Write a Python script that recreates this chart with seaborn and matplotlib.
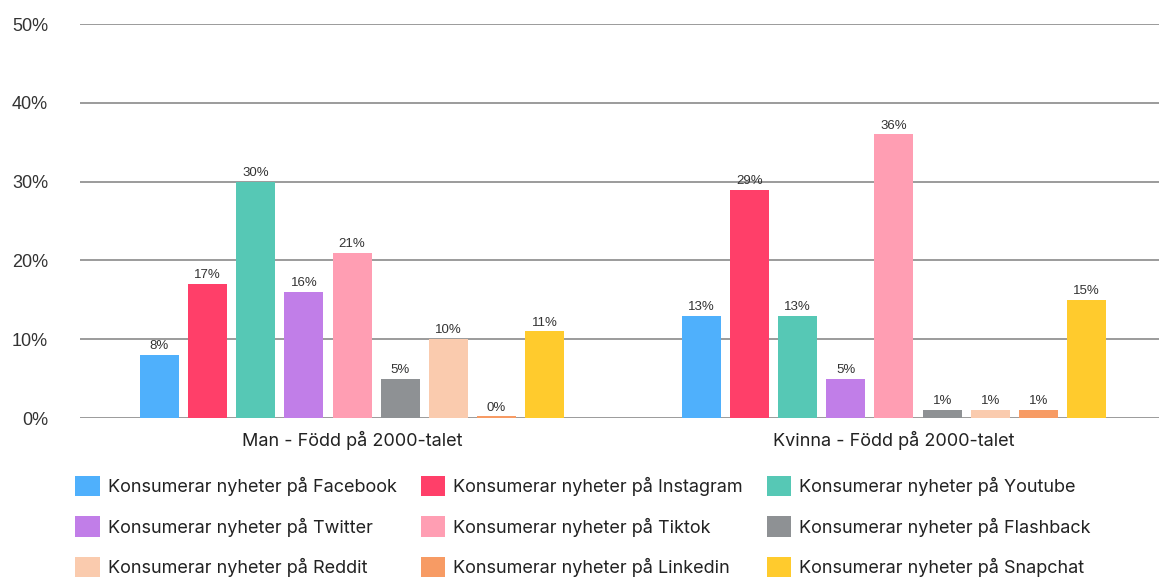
import pandas as pd
import matplotlib.pyplot as plt
import seaborn as sns
from matplotlib.ticker import PercentFormatter

groups = ['Man - Född på 2000-talet', 'Kvinna - Född på 2000-talet']
platforms = ['Facebook', 'Instagram', 'Youtube', 'Twitter', 'Tiktok',
             'Flashback', 'Reddit', 'Linkedin', 'Snapchat']
man = [8, 17, 30, 16, 21, 5, 10, 0.2, 11]
kvinna = [13, 29, 13, 5, 36, 1, 1, 1, 15]
colors = ['#4FB0FC', '#FF3F69', '#56C8B5', '#C17EE8', '#FF9EB3',
          '#8E9194', '#FACBAE', '#F79B64', '#FFCB2D']

series = [f'Konsumerar nyheter på {p}' for p in platforms]
df = pd.DataFrame({
    'grupp': [groups[0]] * len(man) + [groups[1]] * len(kvinna),
    'serie': series + series,
    'andel': man + kvinna,
})

sns.set_style("white")
plt.rcParams['font.family'] = ['Inter', 'DejaVu Sans']

fig = plt.figure(figsize=(11.59, 5.79), dpi=100)
ax = fig.add_axes([0.069, 0.278, 0.931, 0.6805])

sns.barplot(data=df, x='grupp', y='andel', hue='serie', palette=colors,
            saturation=1, width=0.8, gap=0.19, linewidth=0, ax=ax, legend=True)

ax.set_xlim(-0.502, 1.489)
ax.set_ylim(0, 50)
ax.set_yticks(range(0, 51, 10))
ax.yaxis.set_major_formatter(PercentFormatter(decimals=0))
for y in range(0, 51, 10):
    ax.axhline(y, color='#8a8a8a', lw=1.2, zorder=0)
for s in ax.spines.values():
    s.set_visible(False)
ax.tick_params(axis='both', length=0)
ax.tick_params(axis='y', pad=23, labelsize=13, labelcolor='#333333')
for t in ax.get_yticklabels():
    t.set_fontfamily('Liberation Sans')
ax.tick_params(axis='x', pad=9, labelsize=13, labelcolor='#222222')
ax.set_xlabel('')
ax.set_ylabel('')

for c in ax.containers:
    ax.bar_label(c, fmt='%.0f%%', padding=2, fontsize=9.5,
                 color='#333333', family='Liberation Sans')

# legend filled row by row, three per row
handles, labels = ax.get_legend_handles_labels()
ax.legend_.remove()
order = [0, 3, 6, 1, 4, 7, 2, 5, 8]
fig.legend([handles[i] for i in order], [labels[i] for i in order],
           loc='upper left', bbox_to_anchor=(0.065, 0.178),
           ncol=3, frameon=False, fontsize=13, handlelength=1.35,
           handleheight=1.35, handletextpad=0.45, labelspacing=1.12,
           columnspacing=1.32, borderpad=0, borderaxespad=0,
           labelcolor='#222222')

plt.savefig('out.png', dpi=100)
plt.close()
